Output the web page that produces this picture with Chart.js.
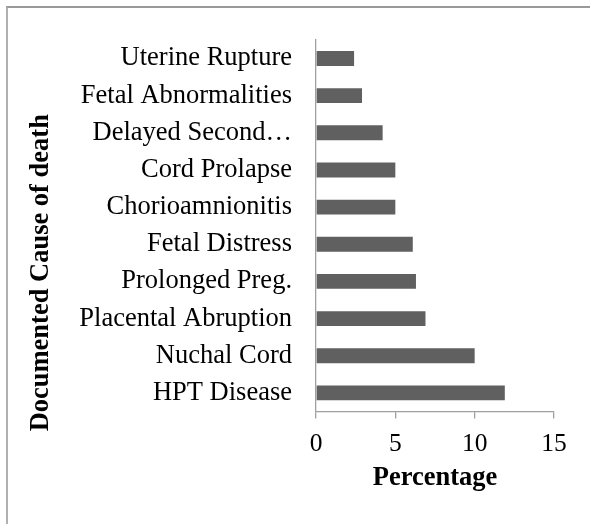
<!DOCTYPE html>
<html>
<head>
<meta charset="utf-8">
<script src="https://cdn.jsdelivr.net/npm/chart.js@4/dist/chart.umd.min.js"></script>
<style>
  html, body { margin: 0; padding: 0; background: #ffffff; }
  #wrap { position: relative; width: 590px; height: 524px; overflow: hidden; }
  #frame { position: absolute; left: 6px; top: 6px; width: 600px; height: 600px;
           border-left: 2px solid #b0b0b0; border-top: 2px solid #999999; }
  #c { position: absolute; left: 0; top: 0; }
</style>
</head>
<body>
<div id="wrap">
  <div id="frame"></div>
  <canvas id="c" width="590" height="524"></canvas>
</div>
<script>
const categories = [
  'Uterine Rupture',
  'Fetal Abnormalities',
  'Delayed Second…',
  'Cord Prolapse',
  'Chorioamnionitis',
  'Fetal Distress',
  'Prolonged Preg.',
  'Placental Abruption',
  'Nuchal Cord',
  'HPT Disease'
];
const percentages = [2.4, 2.9, 4.2, 5.0, 5.0, 6.1, 6.3, 6.9, 10.0, 11.9];
const xTickValues = [0, 5, 10, 15];
const yAxisTitle = 'Documented Cause of death';
const xAxisTitle = 'Percentage';

const FONT = "'Liberation Serif', 'Times New Roman', serif";
const AXIS = '#a0a0a0';

new Chart(document.getElementById('c'), {
  type: 'bar',
  data: {
    labels: categories,
    datasets: [{
      data: percentages,
      backgroundColor: '#606060',
      borderWidth: 0,
      categoryPercentage: 1.0,
      barPercentage: 0.4
    }]
  },
  options: {
    indexAxis: 'y',
    responsive: false,
    animation: false,
    devicePixelRatio: 1,
    layout: { padding: { left: 10, top: 35.5, right: 36, bottom: 14 } },
    plugins: {
      legend: { display: false },
      tooltip: { enabled: false },
      title: {
        display: true,
        position: 'left',
        text: yAxisTitle,
        color: '#000000',
        font: { family: FONT, size: 26.5, weight: 'bold' },
        padding: { top: 15.3, bottom: 0 }
      }
    },
    scales: {
      x: {
        type: 'linear',
        position: 'bottom',
        min: 0,
        max: 15,
        afterBuildTicks: (scale) => { scale.ticks = xTickValues.map(v => ({ value: v })); },
        ticks: {
          color: '#000000',
          font: { family: FONT, size: 25.5 },
          padding: 10
        },
        grid: {
          drawOnChartArea: false,
          drawTicks: true,
          tickLength: 7,
          color: AXIS,
          lineWidth: 1.3
        },
        border: { display: true, color: AXIS, width: 1.3 },
        title: {
          display: true,
          text: xAxisTitle,
          color: '#000000',
          font: { family: FONT, size: 26.5, weight: 'bold' },
          padding: { top: 0, bottom: 15.6 }
        },
        afterFit: (scale) => { scale.height = 98.5; }
      },
      y: {
        type: 'category',
        position: 'left',
        ticks: {
          color: '#000000',
          font: { family: FONT, size: 26.5 },
          padding: 24,
          autoSkip: false
        },
        grid: { drawOnChartArea: false, drawTicks: false, color: AXIS },
        border: { display: true, color: AXIS, width: 1.3 },
        afterFit: (scale) => { scale.width = 316 - (10 + 47.1); }
      }
    }
  }
});
</script>
</body>
</html>
